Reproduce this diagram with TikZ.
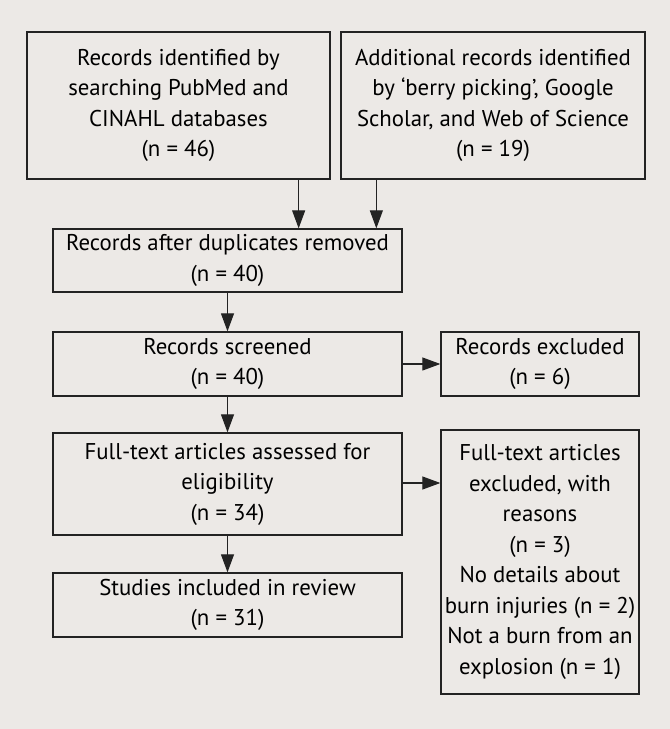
\documentclass[tikz,border=0pt]{standalone}
\usepackage{fontspec}
\setmainfont{PT Sans}
\usetikzlibrary{arrows.meta}
\definecolor{bgc}{RGB}{236,233,230}
\definecolor{linec}{RGB}{35,35,35}
\begin{document}
\begin{tikzpicture}[x=1pt,y=1pt,
  box/.style={draw=linec, line width=1.3pt, rectangle, align=center, inner sep=0pt,
    font=\fontsize{22.8}{30.5}\selectfont, text=black},
  arr/.style={draw=linec, line width=1.1pt, -{Triangle[length=18pt,width=13pt]}}]
\fill[bgc] (0,0) rectangle (670,729);
\useasboundingbox (0,0) rectangle (670,729);
% boxes (y = 729 - pixel y)
\node[box, minimum width=303pt, minimum height=147pt] (A) at (178.5,623.5)
  {Records identified by\\searching PubMed and\\CINAHL databases\\(n = 46)};
\node[box, minimum width=304pt, minimum height=147pt] (B) at (493,623.5)
  {Additional records identified\\by ‘berry picking’, Google\\Scholar, and Web of Science\\(n = 19)};
\node[box, minimum width=349pt, minimum height=63pt] (C) at (227.5,468.5)
  {Records after duplicates removed\\(n = 40)};
\node[box, minimum width=349pt, minimum height=64pt] (D) at (227.5,365)
  {Records screened\\(n = 40)};
\node[box, minimum width=349pt, minimum height=102pt] (E) at (227.5,245)
  {Full-text articles assessed for\\eligibility\\(n = 34)};
\node[box, minimum width=349pt, minimum height=64pt] (F) at (227.5,124)
  {Studies included in review\\(n = 31)};
\node[box, minimum width=198pt, minimum height=64pt] (G) at (540,365)
  {Records excluded\\(n = 6)};
\node[box, minimum width=198pt, minimum height=264pt] (H) at (540,167)
  {Full-text articles\\excluded, with\\reasons\\(n = 3)\\No details about\\burn injuries (n = 2)\\Not a burn from an\\explosion (n = 1)};
% connectors
\draw[arr] ([xshift=-32pt]A.south east) -- ([xshift=-32pt]A.south east |- C.north);
\draw[arr] ([xshift=36pt]B.south west) -- ([xshift=36pt]B.south west |- C.north);
\draw[arr] (C.south) -- (D.north);
\draw[arr] (D.south) -- (E.north);
\draw[arr] (E.south) -- (F.north);
\draw[arr] (D.east) -- (G.west);
\draw[arr] ([yshift=1pt]E.east) -- ([yshift=1pt]E.east -| H.west);
\end{tikzpicture}
\end{document}
